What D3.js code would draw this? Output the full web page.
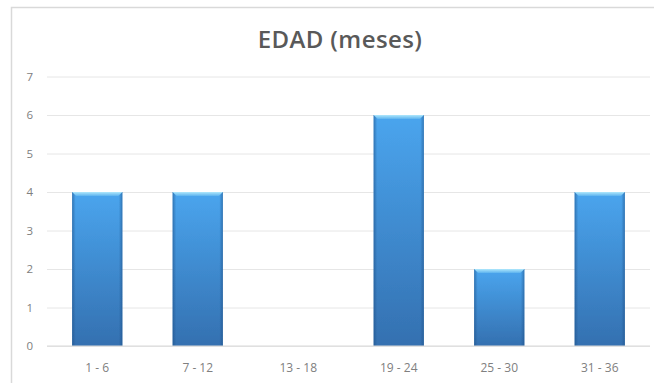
<!DOCTYPE html>
<html>
<head>
<meta charset="utf-8">
<script src="https://cdn.jsdelivr.net/npm/d3@7"></script>
<style>
  html, body { margin: 0; padding: 0; background: #fff; }
  svg { display: block; }
</style>
</head>
<body>
<svg id="chart" width="654" height="383"></svg>
<script>
// Age ranges (months) and counts
const categories = ["1 - 6", "7 - 12", "13 - 18", "19 - 24", "25 - 30", "31 - 36"];
const counts = [4, 4, 0, 6, 2, 4];
const yTicks = [0, 1, 2, 3, 4, 5, 6, 7];
const title = "EDAD (meses)";

const W = 654, H = 383;
const margin = { left: 47, right: 4, top: 76.5, bottom: 37 };
const svg = d3.select("#chart");
const fontFamily = "'Open Sans', 'Liberation Sans', sans-serif";

// Chart area frame
svg.append("rect")
  .attr("x", 11.5).attr("y", 7.5)
  .attr("width", W - 9).attr("height", H)
  .attr("fill", "#fff").attr("stroke", "#d9d9d9").attr("stroke-width", 1.5);

const x = d3.scaleBand()
  .domain(categories)
  .range([margin.left, W - margin.right])
  .paddingInner(0.5).paddingOuter(0.25);

const y = d3.scaleLinear()
  .domain([0, 7])
  .range([H - margin.bottom, margin.top]);

// Bar fill gradients
const defs = svg.append("defs");
const gV = defs.append("linearGradient").attr("id", "barV")
  .attr("x1", 0).attr("y1", 0).attr("x2", 0).attr("y2", 1);
gV.append("stop").attr("offset", "0%").attr("stop-color", "#4aa5ee");
gV.append("stop").attr("offset", "100%").attr("stop-color", "#3470b0");

const gH = defs.append("linearGradient").attr("id", "barH")
  .attr("x1", 0).attr("y1", 0).attr("x2", 1).attr("y2", 0);
gH.append("stop").attr("offset", "0%").attr("stop-color", "#1d4f86").attr("stop-opacity", 0.55);
gH.append("stop").attr("offset", "7%").attr("stop-color", "#1d4f86").attr("stop-opacity", 0);
gH.append("stop").attr("offset", "93%").attr("stop-color", "#1d4f86").attr("stop-opacity", 0);
gH.append("stop").attr("offset", "100%").attr("stop-color", "#1d4f86").attr("stop-opacity", 0.55);

const gTop = defs.append("linearGradient").attr("id", "barTop")
  .attr("x1", 0).attr("y1", 0).attr("x2", 0).attr("y2", 1);
gTop.append("stop").attr("offset", "0%").attr("stop-color", "#b0e8fc");
gTop.append("stop").attr("offset", "100%").attr("stop-color", "#5cb3ef");

const blur = defs.append("filter").attr("id", "soft");
blur.append("feGaussianBlur").attr("stdDeviation", 0.5);

// Gridlines and value labels
const yAxis = d3.axisLeft(y).tickValues(yTicks)
  .tickSize(-(W - margin.right - margin.left)).tickPadding(14)
  .tickFormat(d3.format("d"));
const gy = svg.append("g")
  .attr("transform", `translate(${margin.left},0)`)
  .call(yAxis);
gy.select(".domain").remove();
gy.selectAll(".tick line").attr("stroke", "#e6e6e6").attr("stroke-width", 1);
gy.selectAll(".tick text")
  .attr("fill", "#808080")
  .style("font-family", fontFamily)
  .style("font-size", "11.5px");

// Bars
const bars = svg.append("g").attr("filter", "url(#soft)");
const data = categories.map((c, i) => ({ c, v: counts[i] }));
const shown = data.filter(d => d.v > 0);

bars.selectAll("rect.body").data(shown).join("rect")
  .attr("class", "body")
  .attr("x", d => x(d.c)).attr("y", d => y(d.v))
  .attr("width", x.bandwidth()).attr("height", d => y(0) - y(d.v))
  .attr("fill", "url(#barV)");
bars.selectAll("rect.edge").data(shown).join("rect")
  .attr("class", "edge")
  .attr("x", d => x(d.c)).attr("y", d => y(d.v))
  .attr("width", x.bandwidth()).attr("height", d => y(0) - y(d.v))
  .attr("fill", "url(#barH)");
bars.selectAll("path.top").data(shown).join("path")
  .attr("class", "top")
  .attr("d", d => {
    const x0 = x(d.c), x1 = x0 + x.bandwidth(), t = y(d.v);
    return `M${x0},${t} L${x1},${t} L${x1 - 4},${t + 4} L${x0 + 4},${t + 4} Z`;
  })
  .attr("fill", "url(#barTop)");

// Baseline
svg.append("line")
  .attr("x1", margin.left).attr("x2", W - margin.right)
  .attr("y1", y(0)).attr("y2", y(0))
  .attr("stroke", "#d9d9d9").attr("stroke-width", 1);

// Category labels
const xAxis = d3.axisBottom(x).tickSize(0).tickPadding(17);
const gx = svg.append("g")
  .attr("transform", `translate(0,${y(0)})`)
  .call(xAxis);
gx.select(".domain").remove();
gx.selectAll(".tick text")
  .attr("fill", "#808080")
  .style("font-family", fontFamily)
  .style("font-size", "12px");

// Title
svg.append("text")
  .attr("x", 340).attr("y", 48)
  .attr("text-anchor", "middle")
  .attr("fill", "#595959")
  .style("font-family", fontFamily)
  .style("font-size", "24px")
  .style("font-weight", 600)
  .style("letter-spacing", "0.4px")
  .text(title);
</script>
</body>
</html>
